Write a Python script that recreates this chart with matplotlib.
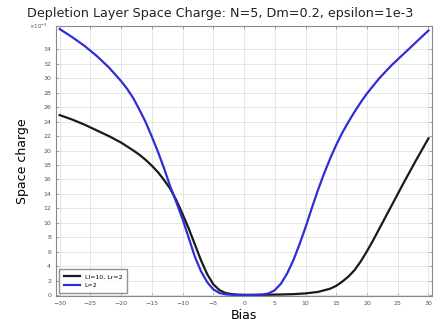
import matplotlib
matplotlib.use('Agg')
import matplotlib.pyplot as plt
from matplotlib.ticker import FuncFormatter

# bias values and space charge (x1e-3)
bias_l = [-30, -28, -26, -24, -22, -20, -19, -18, -17, -16, -15, -14, -13, -12, -11, -10,
          -9, -8, -7, -6, -5, -4, -3, -2, -1, 0, 1, 2, 3, 4, 5, 6, 7, 8, 9, 10,
          11, 12, 13, 14, 15, 16, 17, 18, 19, 20, 22, 24, 26, 28, 30]
charge_l = [36.8, 35.7, 34.5, 33.1, 31.5, 29.6, 28.5, 27.2, 25.6, 23.9, 21.9, 19.8, 17.5, 15.0, 12.8, 10.5,
            7.9, 5.3, 3.3, 1.8, 0.8, 0.3, 0.12, 0.06, 0.03, 0.02, 0.03, 0.05, 0.1, 0.25, 0.7, 1.6, 3.0, 4.8, 7.0, 9.4,
            12.0, 14.5, 16.8, 18.9, 20.8, 22.5, 24.0, 25.4, 26.7, 27.9, 30.0, 31.8, 33.4, 35.0, 36.6]

bias_llr = [-30, -28, -26, -24, -22, -20, -18, -17, -16, -15, -14, -13, -12, -11, -10, -9, -8,
            -7, -6, -5, -4, -3, -2, -1, 0, 2, 4, 6, 8, 10, 12, 14, 15, 16, 17, 18, 19, 20, 21, 22,
            24, 26, 28, 30]
charge_llr = [24.9, 24.3, 23.6, 22.8, 22.0, 21.1, 20.0, 19.4, 18.7, 17.9, 17.0, 15.9, 14.7, 13.1, 11.2, 9.2, 7.0,
              4.8, 2.9, 1.5, 0.7, 0.3, 0.15, 0.08, 0.05, 0.05, 0.07, 0.1, 0.15, 0.25, 0.45, 0.9, 1.3, 1.9, 2.6, 3.5, 4.7, 6.1, 7.6, 9.2,
              12.4, 15.6, 18.7, 21.7]

fig = plt.figure(figsize=(4.41, 3.27), dpi=100)
ax = fig.add_axes([0.127, 0.095, 0.853, 0.825])

ax.plot(bias_llr, [c * 1e-3 for c in charge_llr], color='#1a1a1a', lw=1.6, label='Ll=10, Lr=2')
ax.plot(bias_l, [c * 1e-3 for c in charge_l], color='#2e2ed6', lw=1.6, label='L=2')

ax.set_xlim(-30.6, 30.6)
ax.set_ylim(-0.1e-3, 37.2e-3)
ax.set_xticks(range(-30, 31, 5))
ax.set_yticks([i * 1e-3 for i in range(0, 35, 2)])
ax.yaxis.set_major_formatter(FuncFormatter(lambda v, p: '%d' % round(v * 1e3)))
ax.text(-0.02, 1.0, r'$\times10^{-3}$', transform=ax.transAxes, ha='right', va='center',
        fontsize=4, color='#555555')

ax.tick_params(direction='in', labelsize=4.5, labelcolor='#555555', color='#888888',
               length=2, width=0.5, top=True, right=True)
ax.grid(True, color='#e2e2e2', lw=0.6)
for s in ax.spines.values():
    s.set_color('#888888')

fig.text(0.5, 0.958, 'Depletion Layer Space Charge: N=5, Dm=0.2, epsilon=1e-3', fontsize=9.2,
         color='#222222', ha='center', va='center')
ax.set_xlabel('Bias', fontsize=9, labelpad=2)
ax.set_ylabel('Space charge', fontsize=9, labelpad=10)

leg = ax.legend(loc='lower left', fontsize=4.5, frameon=True, fancybox=False,
                edgecolor='#777777', handlelength=2.5, borderpad=0.8)
leg.get_frame().set_linewidth(1.0)

fig.savefig('out.png', dpi=100)
